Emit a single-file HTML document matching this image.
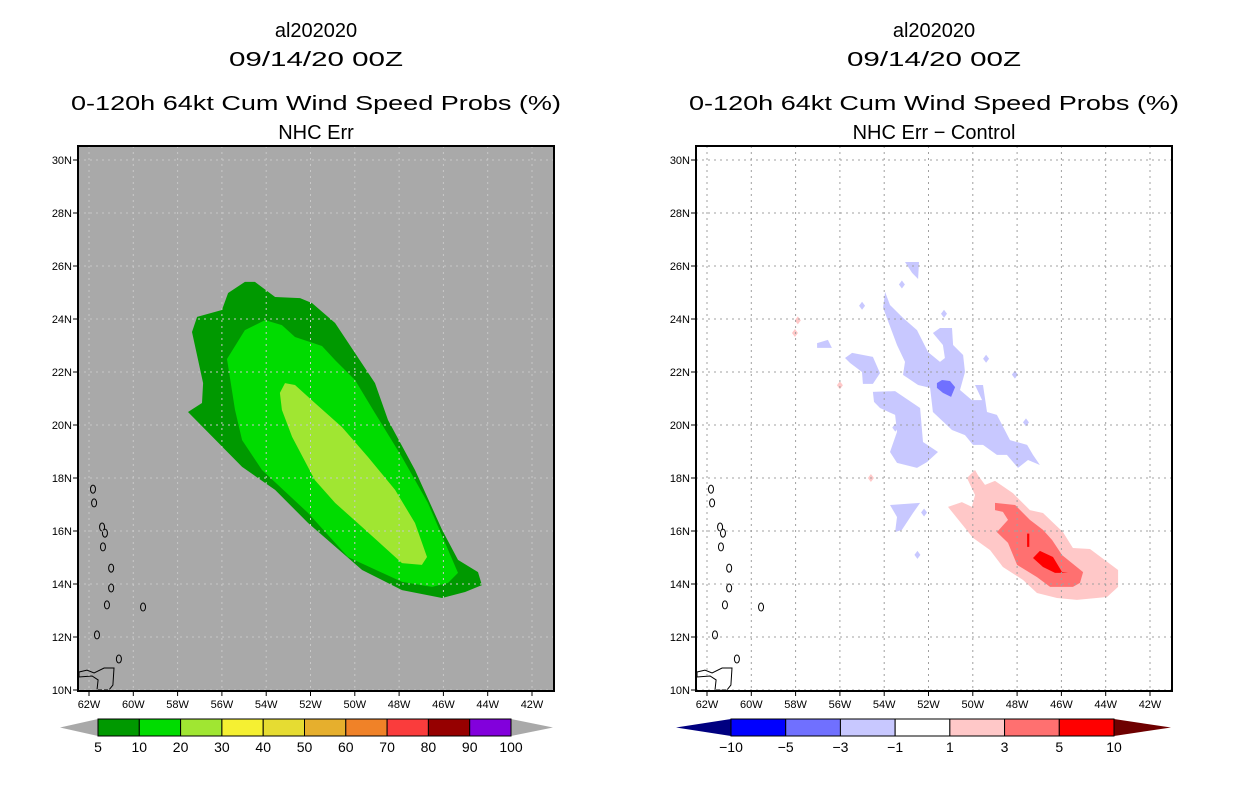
<!DOCTYPE html>
<html><head><meta charset="utf-8"><style>
html,body{margin:0;padding:0;background:#fff;}
svg{display:block;font-family:"Liberation Sans",sans-serif;}
</style></head><body>
<svg id="chart" width="1236" height="800" viewBox="0 0 1236 800" xmlns="http://www.w3.org/2000/svg"></svg>
<script>
// ---- data ----
const lonTicks = [-62,-60,-58,-56,-54,-52,-50,-48,-46,-44,-42];
const latTicks = [10,12,14,16,18,20,22,24,26,28,30];
const probLevels = ["5","10","20","30","40","50","60","70","80","90","100"];
const probColors = ["#009900","#00dc00","#a0e632","#f5f032","#e6dc32","#e6af2d","#f08228","#fa3c3c","#960000","#8200dc"];
const diffLevels = ["-10","-5","-3","-1","1","3","5","10"];
const diffColors = ["#0000ff","#7070ff","#c8c8ff","#ffffff","#ffc8c8","#ff7070","#ff0000"];
const probOuter = [[-57.35,23.51],[-57.12,24.08],[-56.0,24.34],[-55.72,24.98],[-54.96,25.40],[-54.51,25.40],[-53.60,24.83],[-52.47,24.79],[-51.93,24.60],[-50.89,23.85],[-49.09,21.58],[-48.50,20.19],[-47.28,18.30],[-46.06,16.04],[-45.34,14.91],[-44.44,14.45],[-44.26,13.96],[-45.02,13.70],[-46.06,13.47],[-47.87,13.77],[-49.67,14.53],[-52.11,16.30],[-53.60,17.55],[-55.09,18.42],[-57.53,20.49],[-56.90,20.83],[-56.85,21.58]];
const probMiddle = [[-55.77,22.49],[-54.96,23.58],[-54.05,23.96],[-53.29,23.77],[-52.70,23.32],[-51.48,22.98],[-50.89,22.45],[-49.99,21.70],[-49.09,20.45],[-47.87,18.79],[-46.70,17.06],[-45.34,14.42],[-45.79,14.04],[-46.51,13.89],[-47.87,14.08],[-50.31,15.02],[-52.11,16.68],[-54.19,18.30],[-55.09,19.43],[-55.41,20.57]];
const probInner = [[-53.15,21.58],[-52.70,21.51],[-51.80,20.83],[-50.58,19.92],[-49.40,18.79],[-48.18,17.55],[-47.28,16.30],[-46.74,15.02],[-46.97,14.72],[-47.87,14.79],[-49.67,16.15],[-50.89,17.06],[-51.80,17.92],[-52.83,19.55],[-53.29,20.57],[-53.38,21.21]];
const diffNegMain = [[-53.96,25.02],[-53.74,24.53],[-53.15,24.04],[-52.52,23.58],[-52.02,22.75],[-51.48,22.38],[-51.26,22.53],[-51.35,23.02],[-51.8,23.47],[-51.48,23.66],[-50.94,23.66],[-50.89,23.02],[-50.44,22.64],[-50.35,22.0],[-50.58,21.32],[-50.04,20.94],[-49.58,20.94],[-49.9,21.51],[-49.54,21.51],[-49.36,20.49],[-48.91,20.38],[-48.32,19.43],[-47.55,19.25],[-47.28,18.87],[-46.97,18.49],[-47.51,18.68],[-47.96,18.38],[-48.46,18.87],[-48.91,18.87],[-49.54,19.25],[-49.99,19.25],[-50.35,19.62],[-50.94,19.81],[-51.8,20.49],[-51.93,21.4],[-52.47,21.51],[-53.15,21.89],[-53.06,22.38],[-53.42,23.02],[-54.05,24.42]];
const diffNegWest = [[-55.77,22.53],[-55.45,22.72],[-54.51,22.57],[-54.19,21.96],[-54.51,21.55],[-54.96,21.55],[-55.0,22.0],[-55.54,22.34]];
const diffNegSouth = [[-54.51,21.25],[-53.51,21.28],[-52.38,20.64],[-52.25,19.36],[-51.57,18.98],[-52.07,18.6],[-52.52,18.38],[-53.42,18.57],[-53.74,18.98],[-53.42,19.74],[-53.51,20.38],[-54.19,20.64],[-54.46,20.87]];
const diffNegTop = [[-53.06,26.15],[-52.43,26.15],[-52.47,25.51],[-52.74,25.74]];
const diffNegSmall = [[-57.03,23.09],[-56.54,23.21],[-56.36,22.91],[-57.03,22.91]];
const diffNegLow = [[-53.74,16.98],[-52.38,17.06],[-52.7,16.68],[-53.2,16.04],[-53.51,15.96],[-53.42,16.53]];
const diffNegCore = [[-51.62,21.58],[-51.39,21.7],[-51.03,21.66],[-50.8,21.43],[-50.98,21.06],[-51.35,21.21],[-51.62,21.4]];
const diffNegDots = [[-52.2,16.7],[-53.2,25.3],[-51.3,24.2],[-49.4,22.5],[-48.1,21.9],[-47.6,20.1],[-52.5,15.1],[-55.0,24.5],[-53.5,19.9]];
const diffPosOuter = [[-50.26,18.0],[-49.9,18.3],[-49.77,18.11],[-49.45,17.74],[-49.0,17.89],[-48.19,17.43],[-47.42,16.79],[-46.83,16.68],[-45.93,15.96],[-45.48,15.36],[-44.71,15.32],[-43.44,14.53],[-43.44,13.89],[-43.94,13.51],[-45.3,13.4],[-46.2,13.47],[-47.1,13.66],[-47.73,14.15],[-48.64,14.64],[-49.22,15.28],[-49.99,15.74],[-51.12,16.91],[-50.49,17.09],[-50.04,16.91],[-49.9,17.36]];
const diffPosMid = [[-49.0,17.06],[-48.09,16.98],[-47.42,16.42],[-46.83,16.04],[-46.42,15.66],[-45.97,15.09],[-45.02,14.45],[-45.16,14.04],[-45.48,13.89],[-46.51,13.89],[-47.1,14.26],[-48.0,14.72],[-48.41,15.55],[-48.91,15.96],[-48.41,16.42],[-48.64,16.72],[-49.0,16.79]];
const diffPosCore = [[-47.28,14.98],[-46.97,15.25],[-46.38,15.02],[-45.97,14.45],[-45.7,14.42],[-46.29,14.42],[-46.83,14.64]];
const diffPosSliver = [[-47.55,15.9],[-47.45,15.9],[-47.45,15.4],[-47.55,15.4]];
const diffPosDots = [[-58.03,23.47],[-56.0,21.5],[-57.9,23.95],[-54.6,18.0]];
const islands = [[-61.82,17.58],[-61.77,17.06],[-61.41,16.15],[-61.28,15.92],[-61.37,15.4],[-61.0,14.6],[-61.0,13.85],[-61.19,13.21],[-59.56,13.13],[-61.64,12.08],[-60.65,11.17]];
const trinidad = [[-62.45,10.68],[-62.09,10.75],[-61.77,10.64],[-61.32,10.83],[-60.87,10.83],[-60.92,10.19],[-61.1,10.0],[-61.64,10.0],[-61.59,10.38],[-61.86,10.53],[-62.45,10.49]];

// ---- helpers ----
const NS="http://www.w3.org/2000/svg";
const svg=document.getElementById('chart');
function mk(tag,attrs,parent){const e=document.createElementNS(NS,tag);for(const k in attrs)e.setAttribute(k,attrs[k]);(parent||svg).appendChild(e);return e;}
const PW=476, PH=545, PY=146;
function xs(ox){return lon=>ox+11+(lon+62)*22.15;}
const ys=lat=>160+(30-lat)*26.5;

function panel(ox,name,bg,gridColor,titleLine4){
  const cx=ox+PW/2;
  const g=mk('g',{});
  
  
  const t1=mk('text',{x:cx,y:37,'text-anchor':'middle','font-size':20},g);t1.textContent='al202020';
  
  const t2=mk('text',{x:cx,y:66,'text-anchor':'middle','font-size':20,textLength:174,lengthAdjust:'spacingAndGlyphs'},g);t2.textContent='09/14/20 00Z';
  
  const t3=mk('text',{x:cx,y:110,'text-anchor':'middle','font-size':20,textLength:490,lengthAdjust:'spacingAndGlyphs'},g);t3.textContent='0-120h 64kt Cum Wind Speed Probs (%)';
  
  const t4=mk('text',{x:cx,y:139,'text-anchor':'middle','font-size':20},g);t4.textContent=titleLine4;
  
  const bgr=mk('rect',{x:ox,y:PY,width:PW,height:PH,fill:bg},g);
  
  return {g,x:xs(ox)};
}
function poly(pts,x,fill,parent,name,stroke){
  const p=mk('polygon',{points:pts.map(d=>x(d[0]).toFixed(1)+','+ys(d[1]).toFixed(1)).join(' '),fill:fill,stroke:stroke||'none','stroke-width':1},parent);
  
  
  return p;
}
function dots(arr,x,fill,parent,name){
  arr.forEach(d=>{
    const X=x(d[0]),Y=ys(d[1]);
    const p=mk('polygon',{points:`${X},${Y-4} ${X+3},${Y} ${X},${Y+4} ${X-3},${Y}`,fill:fill},parent);
    
    
  });
}
function coast(x,parent){
  islands.forEach(d=>{
    const e=mk('ellipse',{cx:x(d[0]),cy:ys(d[1]),rx:2.5,ry:4,fill:'none',stroke:'#000','stroke-width':1},parent);
    
    
  });
  poly(trinidad,x,'none',parent,'trinidad-outline','#000');
}
function axes(ox,x,gridColor,parent){
  lonTicks.forEach(l=>{
    const X=x(l);
    const gl=mk('line',{x1:X,y1:PY,x2:X,y2:PY+PH,stroke:gridColor,'stroke-dasharray':'2,4','stroke-width':1},parent);
    
    mk('line',{x1:X,y1:PY+PH,x2:X,y2:PY+PH+5,stroke:'#000'},parent);
    const t=mk('text',{x:X,y:PY+PH+17,'text-anchor':'middle','font-size':11},parent);
    t.textContent=(-l)+'W';
    
  });
  latTicks.forEach(l=>{
    const Y=ys(l);
    const gl=mk('line',{x1:ox,y1:Y,x2:ox+PW,y2:Y,stroke:gridColor,'stroke-dasharray':'2,4','stroke-width':1},parent);
    
    mk('line',{x1:ox-5,y1:Y,x2:ox,y2:Y,stroke:'#000'},parent);
    const t=mk('text',{x:ox-6,y:Y+4,'text-anchor':'end','font-size':11},parent);
    t.textContent=l+'N';
    
  });
  const fr=mk('rect',{x:ox,y:PY,width:PW,height:PH,fill:'none',stroke:'#000','stroke-width':2},parent);
  
}
function colorbar(x0,x1,tipL,tipR,colors,labels,leftFill,rightFill,name){
  const g=mk('g',{});
  
  
  const y0=719,y1=736,ym=(y0+y1)/2,w=(x1-x0)/colors.length;
  const lt=mk('polygon',{points:`${tipL},${ym} ${x0},${y0} ${x0},${y1}`,fill:leftFill},g);
  
  const rt=mk('polygon',{points:`${tipR},${ym} ${x1},${y0} ${x1},${y1}`,fill:rightFill},g);
  
  colors.forEach((c,i)=>{
    const r=mk('rect',{x:x0+i*w,y:y0,width:w,height:y1-y0,fill:c,stroke:'#000','stroke-width':1},g);
    
  });
  labels.forEach((s,i)=>{
    const t=mk('text',{x:x0+i*w,y:752,'text-anchor':'middle','font-size':14},g);
    t.textContent=s.replace('-','\u2212');
    
  });
}

// ---- left panel ----
const L=panel(78,'left-panel-nhc-err','#a9a9a9','#c8c8c8','NHC Err');
poly(probOuter,L.x,probColors[0],L.g,'prob-5-10-contour');
poly(probMiddle,L.x,probColors[1],L.g,'prob-10-20-contour');
poly(probInner,L.x,probColors[2],L.g,'prob-20-30-contour');
coast(L.x,L.g);
axes(78,L.x,'#c8c8c8',L.g);
colorbar(98,511,60,553,probColors,probLevels,'#a9a9a9','#a9a9a9','prob-colorbar');

// ---- right panel ----
const R=panel(696,'right-panel-nhc-err-minus-control','#ffffff','#a0a0a0','NHC Err \u2212 Control');
[diffNegMain,diffNegWest,diffNegSouth,diffNegTop,diffNegSmall,diffNegLow].forEach(p=>poly(p,R.x,diffColors[2],R.g,'diff-neg-1-3-contour'));
dots(diffNegDots,R.x,diffColors[2],R.g,'diff-neg-speck');
poly(diffNegCore,R.x,diffColors[1],R.g,'diff-neg-3-5-contour');
poly(diffPosOuter,R.x,diffColors[4],R.g,'diff-pos-1-3-contour');
dots(diffPosDots,R.x,diffColors[4],R.g,'diff-pos-speck');
poly(diffPosMid,R.x,diffColors[5],R.g,'diff-pos-3-5-contour');
poly(diffPosCore,R.x,diffColors[6],R.g,'diff-pos-5-10-contour');
poly(diffPosSliver,R.x,diffColors[6],R.g,'diff-pos-5-10-sliver');
coast(R.x,R.g);
axes(696,R.x,'#a0a0a0',R.g);
colorbar(731,1114,676,1171,diffColors,diffLevels,'#000080','#6e0000','diff-colorbar');
</script>
</body></html>
